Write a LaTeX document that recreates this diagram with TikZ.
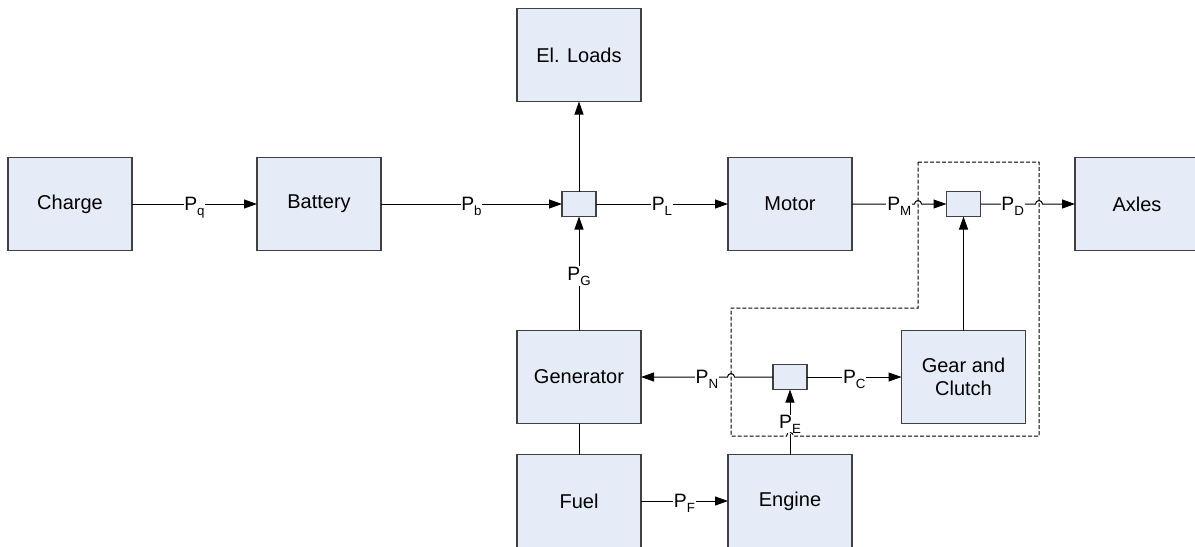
\documentclass[tikz,border=0pt]{standalone}
\usepackage{fontspec}
\setmainfont{Liberation Sans}
\usetikzlibrary{arrows.meta,calc}
\definecolor{boxfill}{RGB}{230,236,247}
\definecolor{boxline}{RGB}{64,64,64}
\newcommand{\Psub}[1]{P\raisebox{-3.75pt}{\fontsize{10}{12}\selectfont #1}}
\begin{document}
\begin{tikzpicture}[x=0.75pt,y=-0.75pt,
  blk/.style={draw=boxline, fill=boxfill, line width=1pt, minimum width=93pt, minimum height=69.75pt, inner sep=0pt, outer sep=0pt, font=\fontsize{15}{17.5}\selectfont, align=center},
  jn/.style={draw=boxline, fill=boxfill, line width=1pt, minimum width=25.5pt, minimum height=18.75pt, inner sep=0pt, outer sep=0pt},
  conn/.style={line width=0.75pt, draw=black},
  arr/.style={conn, -{Triangle[length=9.75pt,width=6.75pt]}},
  lbl/.style={fill=white, inner sep=0.6pt, anchor=base, yshift=-5pt, font=\fontsize{14.5}{16}\selectfont},
  dsh/.style={line width=0.75pt, draw=black, dash pattern=on 3pt off 1.5pt}
]
\useasboundingbox (0,0) rectangle (1195,546);
\clip (0,0) rectangle (1195,546);

% blocks
\node[blk] (charge) at (70,204) {Charge};
\node[blk] (battery) at (319,204) {Battery};
\node[jn] (j1) at (579,204) {};
\node[blk] (loads) at (579,55) {El. Loads};
\node[blk] (motor) at (790,204) {Motor};
\node[jn] (j2) at (963.5,204) {};
\node[blk] (axles) at (1137,204) {Axles};
\node[blk] (gen) at (579,377) {Generator};
\node[jn] (j3) at (790,377) {};
\node[blk] (gear) at (963.5,377) {Gear and\\Clutch};
\node[blk] (fuel) at (579,501) {Fuel};
\node[blk] (engine) at (790,501) {Engine};

% dashed boundary corners
\coordinate (dA) at (918,162);
\coordinate (dB) at (1039,162);
\coordinate (dC) at (1039,436);
\coordinate (dD) at (731,436);
\coordinate (dE) at (731,308);
\coordinate (dF) at (918,308);

% connectors
\draw[arr] (charge) -- (battery);
\draw[arr] (battery) -- (j1);
\draw[arr] (j1) -- (motor);
\draw[arr] (j1) -- (loads);
\draw[arr] (motor.east) -- ($(dA |- motor.east)+(-3.5,0)$) arc[start angle=180,end angle=360,radius=3.5] -- (j2.west);
\draw[arr] (j2.east) -- ($(dB |- j2.east)+(-3.5,0)$) arc[start angle=180,end angle=360,radius=3.5] -- (axles.west);
\draw[arr] (gen) -- (j1);
\draw[arr] (j3.west) -- ($(dE |- j3.west)+(3.5,0)$) arc[start angle=0,end angle=-180,radius=3.5] -- (gen.east);
\draw[arr] (j3) -- (gear);
\draw[arr] (engine) -- (j3);
\draw[arr] (gear) -- (j2);
\draw[conn] (gen) -- (fuel);
\draw[arr] (fuel) -- (engine);

% labels
\node[lbl] (lq) at ($(charge.east)!0.5!(battery.west)$) {\Psub{q}};
\node[lbl] (lb) at ($(battery.east)!0.5!(j1.west)$) {\Psub{b}};
\node[lbl] (lL) at ($(j1.east)!0.5!(motor.west)$) {\Psub{L}};
\node[lbl] (lM) at ($(motor.east)!0.5!(j2.west)$) {\Psub{M}};
\node[lbl] (lD) at ($(j2.east)!0.34!(axles.west)$) {\Psub{D}};
\node[lbl] (lG) at ($(gen.north)!0.5!(j1.south)$) {\Psub{G}};
\node[lbl] (lN) at ($(j3.west)!0.5!(gen.east)$) {\Psub{N}};
\node[lbl] (lC) at ($(j3.east)!0.5!(gear.west)$) {\Psub{C}};
\node[lbl] (lE) at ($(engine.north)!0.5!(j3.south)$) {\Psub{E}};
\node[lbl] (lF) at ($(fuel.east)!0.5!(engine.west)$) {\Psub{F}};

% dashed boundary with hop over the engine line
\draw[dsh] (dA) -- (dB) -- (dC) -- ($(engine.north |- dC)+(3.5,0)$) arc[start angle=0,end angle=-180,radius=3.5] -- (dD) -- (dE) -- (dF) -- cycle;
\end{tikzpicture}
\end{document}
